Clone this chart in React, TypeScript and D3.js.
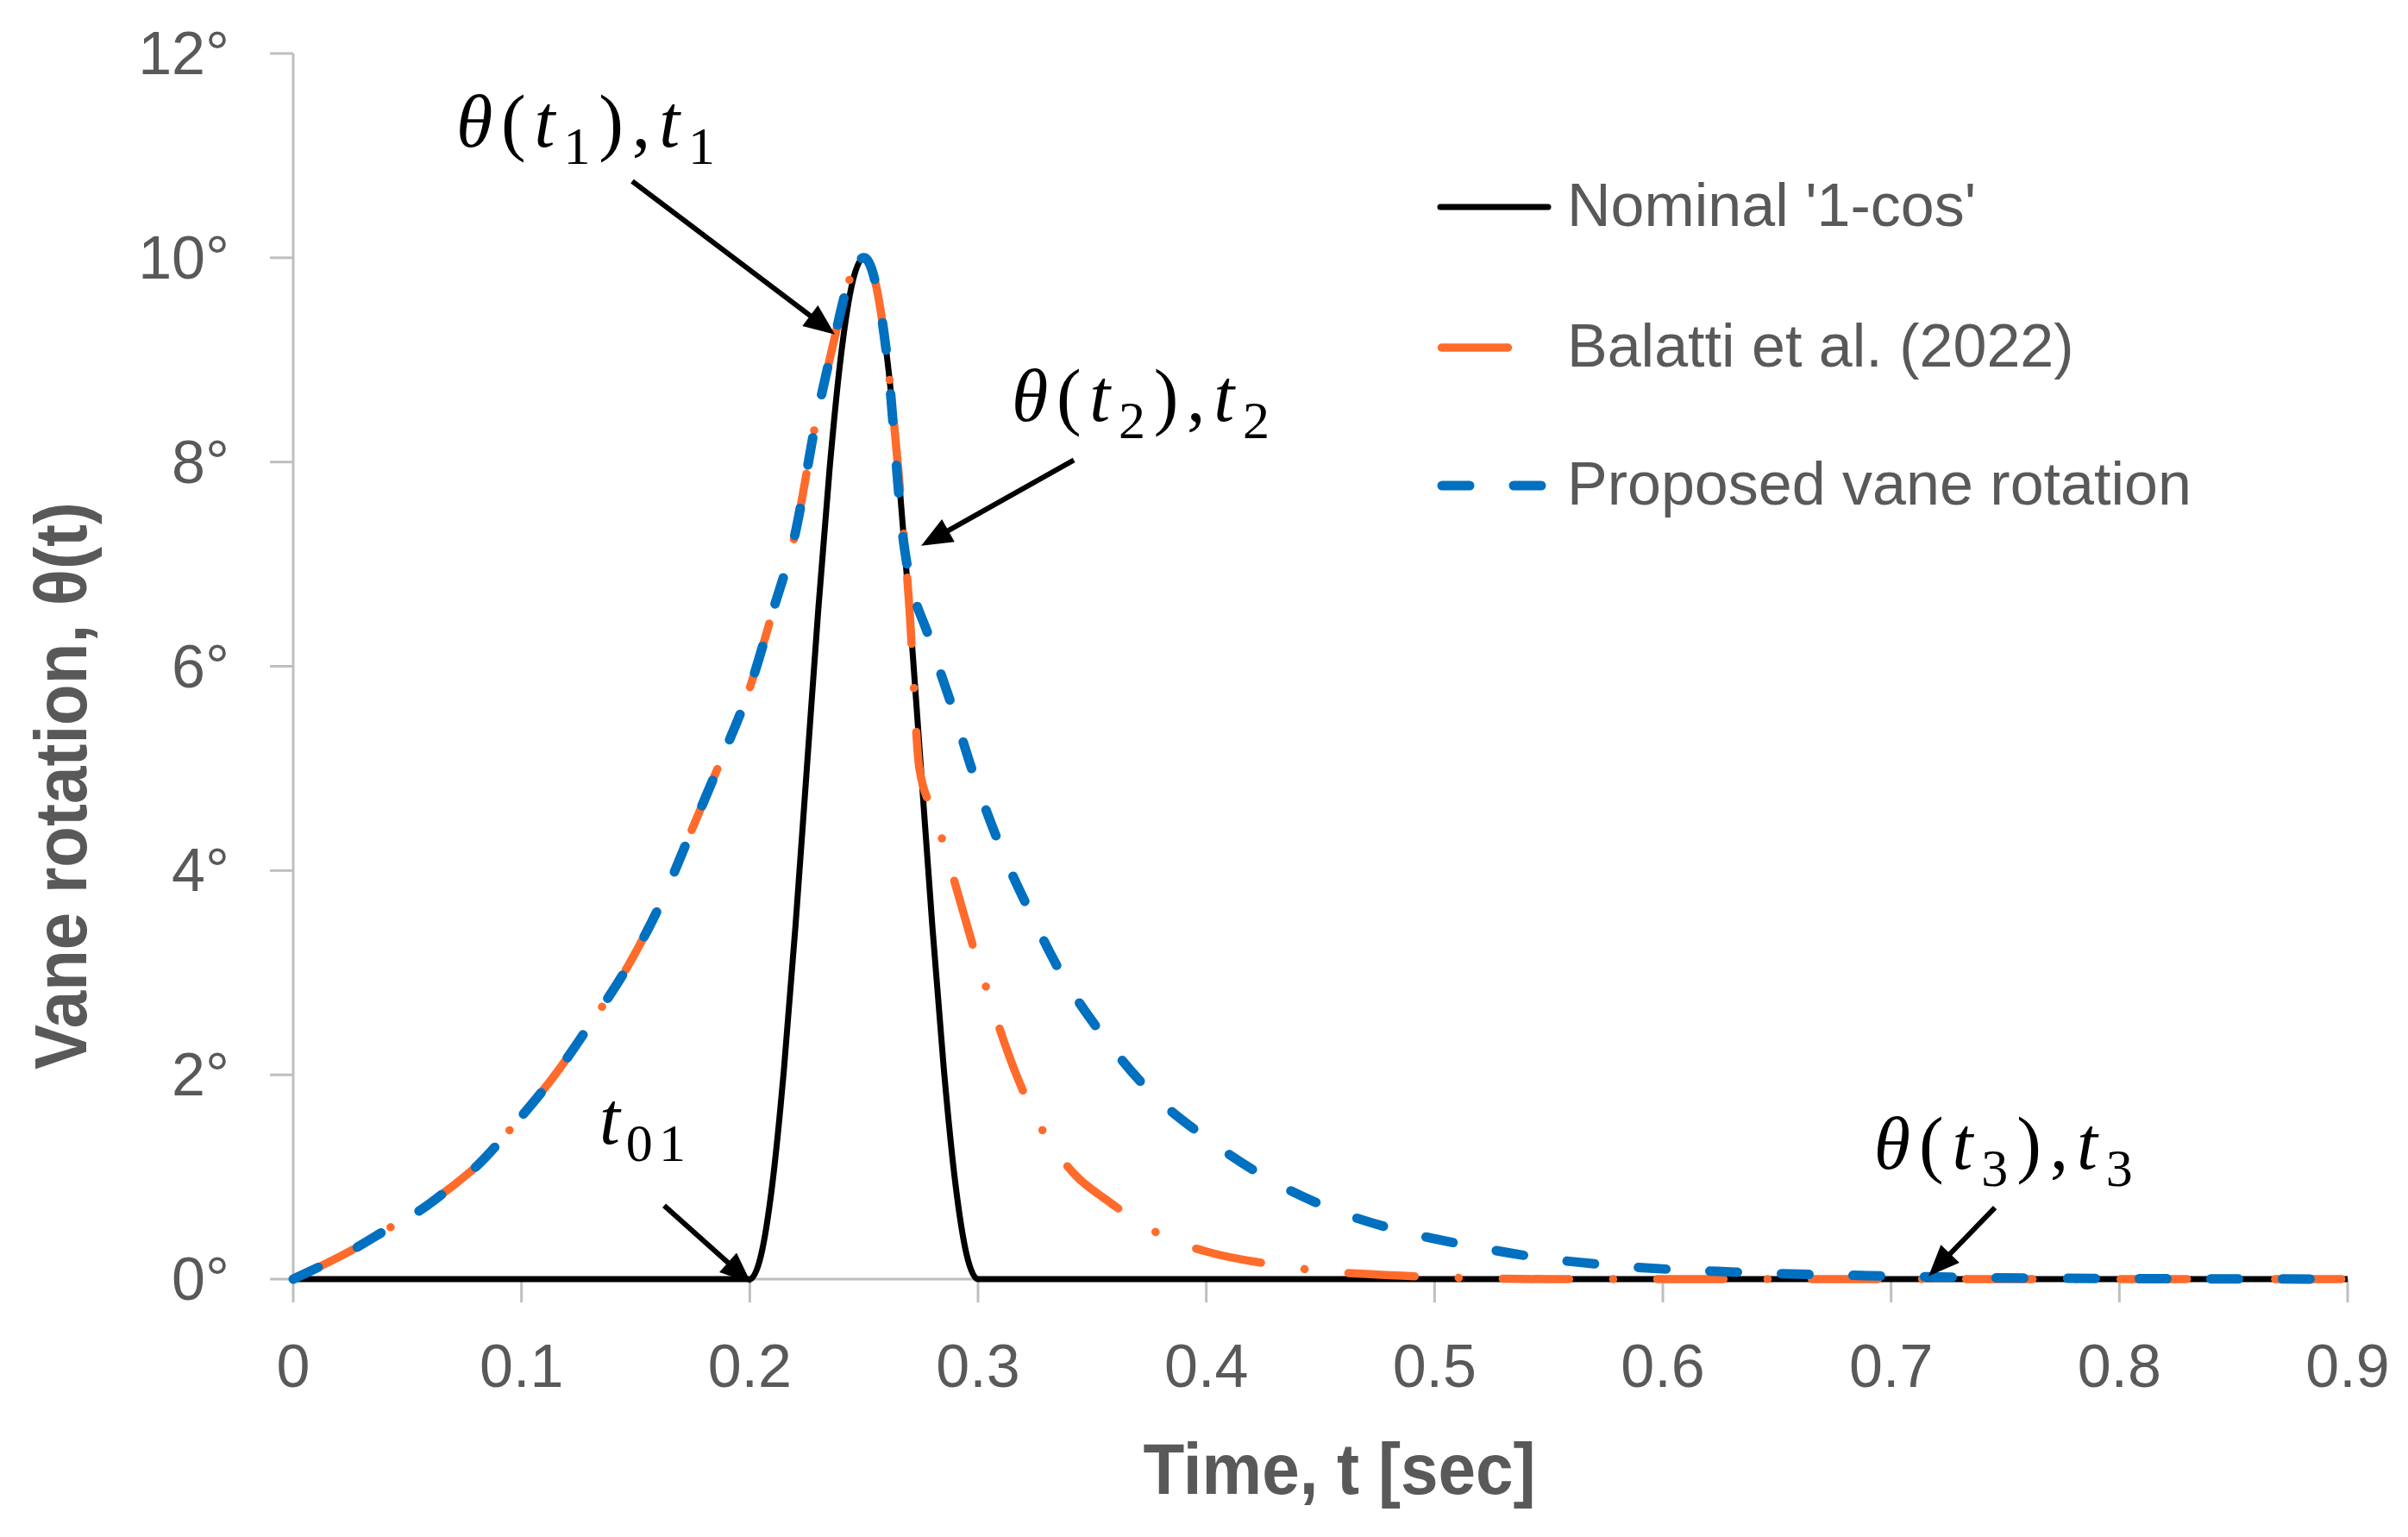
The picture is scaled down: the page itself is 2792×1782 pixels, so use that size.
import * as d3 from "d3";

const WIDTH = 2792;
const HEIGHT = 1782;
const PLOT = { left: 340, right: 2722, top: 62, bottom: 1483 };

const X_TICKS = [0, 0.1, 0.2, 0.3, 0.4, 0.5, 0.6, 0.7, 0.8, 0.9];
const Y_TICKS = [0, 2, 4, 6, 8, 10, 12];

// Nominal '1-cos' gust
const NOMINAL_T = [0, 0.2, 0.205, 0.21, 0.215, 0.22, 0.225, 0.23, 0.235, 0.24, 0.245, 0.25, 0.255, 0.26, 0.265, 0.27, 0.275, 0.28, 0.285, 0.29, 0.295, 0.3, 0.9];
const NOMINAL_V = [0, 0, 0.24, 0.95, 2.06, 3.45, 5.0, 6.55, 7.94, 9.05, 9.76, 10, 9.76, 9.05, 7.94, 6.55, 5.0, 3.45, 2.06, 0.95, 0.24, 0, 0];

// rising branch, shared by both vane curves
const RISE_T = [0, 0.027, 0.042, 0.056, 0.068, 0.081, 0.096, 0.116, 0.129, 0.147, 0.161, 0.175, 0.187, 0.2, 0.21, 0.22, 0.229, 0.237, 0.243, 0.25];
const RISE_V = [0, 0.3, 0.5, 0.68, 0.88, 1.12, 1.49, 2.04, 2.46, 3.08, 3.68, 4.42, 5.06, 5.79, 6.53, 7.31, 8.4, 9.2, 9.74, 10];

// Balatti et al. (2022) decay
const BALATTI_T = [0.255, 0.26, 0.265, 0.27, 0.2743, 0.281, 0.286, 0.291, 0.3, 0.3056, 0.311, 0.323, 0.332, 0.343, 0.356, 0.369, 0.384, 0.4, 0.433, 0.45, 0.47, 0.5, 0.55, 0.9];
const BALATTI_V = [9.76, 9.05, 7.94, 6.55, 5.0, 4.54, 4.18, 3.79, 3.1, 2.72, 2.35, 1.68, 1.32, 1.01, 0.78, 0.58, 0.39, 0.27, 0.13, 0.08, 0.05, 0.02, 0, 0];

// proposed vane rotation decay
const PROPOSED_T = [0.255, 0.26, 0.2675, 0.279, 0.289, 0.2985, 0.31, 0.3226, 0.337, 0.3555, 0.3756, 0.4, 0.4265, 0.4556, 0.4855, 0.517, 0.546, 0.58, 0.63, 0.7, 0.76, 0.9];
const PROPOSED_V = [9.76, 9.05, 7.2, 6.25, 5.58, 4.91, 4.22, 3.6, 2.97, 2.36, 1.83, 1.38, 0.99, 0.68, 0.47, 0.32, 0.21, 0.13, 0.07, 0.03, 0.01, 0];

const LEGEND = ["Nominal '1-cos'", "Balatti et al. (2022)", "Proposed vane rotation"];

// annotation text anchors and arrows, in data units [t, theta]
const LABEL_POS = [
  [0.0714, 11.09],
  [0.3147, 8.4],
  [0.1341, 1.33],
  [0.6925, 1.08],
];
const ARROWS = [
  [[0.1485, 10.75], [0.2373, 9.25]],
  [[0.342, 8.02], [0.2751, 7.18]],
  [[0.1625, 0.72], [0.2006, -0.04]],
  [[0.7455, 0.7], [0.7164, 0.03]],
];

const GREY = "#595959";
const AXIS = "#BFBFBF";
const ORANGE = "#FF6B2B";
const BLUE = "#0070C0";
const SANS = "'Liberation Sans', Arial, sans-serif";
const SERIF = "'Liberation Serif', 'DejaVu Serif', serif";

type Part = { s: string; it?: boolean; sub?: boolean };

const theta = (n: string): Part[] => [
  { s: "θ", it: true },
  { s: "(" },
  { s: "t", it: true },
  { s: n, sub: true },
  { s: ")" },
  { s: "," },
  { s: "t", it: true },
  { s: n, sub: true },
];
const LABELS: { parts: Part[]; len: number }[] = [
  { parts: theta("1"), len: 300 },
  { parts: theta("2"), len: 299 },
  { parts: [{ s: "t", it: true }, { s: "01", sub: true }], len: 100 },
  { parts: theta("3"), len: 300 },
];

const MathLabel = ({ x, y, parts, len }: { x: number; y: number; parts: Part[]; len: number }) => (
  <text x={x} y={y} fontFamily={SERIF} fontSize={86} fill="#000" textLength={len} lengthAdjust="spacing">
    {parts.map((p, i) => (
      <tspan
        key={i}
        y={p.sub ? y + 20 : y}
        fontStyle={p.it ? "italic" : "normal"}
        fontSize={p.sub ? 62 : 86}
      >
        {p.s}
      </tspan>
    ))}
  </text>
);

const Arrow = ({ x1, y1, x2, y2 }: { x1: number; y1: number; x2: number; y2: number }) => {
  const dx = x2 - x1;
  const dy = y2 - y1;
  const len = Math.hypot(dx, dy);
  const ux = dx / len;
  const uy = dy / len;
  const head = 36;
  const half = 15;
  const bx = x2 - ux * head;
  const by = y2 - uy * head;
  return (
    <g>
      <line x1={x1} y1={y1} x2={bx + ux * 4} y2={by + uy * 4} stroke="#000" strokeWidth={6} />
      <polygon
        points={`${x2},${y2} ${bx - uy * half},${by + ux * half} ${bx + uy * half},${by - ux * half}`}
        fill="#000"
      />
    </g>
  );
};

export default function App() {
  const x = d3.scaleLinear().domain([0, 0.9]).range([PLOT.left, PLOT.right]);
  const y = d3.scaleLinear().domain([0, 12]).range([PLOT.bottom, PLOT.top]);

  const line = d3
    .line<[number, number]>()
    .x((d) => x(d[0]))
    .y((d) => y(d[1]))
    .curve(d3.curveMonotoneX);

  const zip = (t: number[], v: number[]) => t.map((d, i) => [d, v[i]] as [number, number]);
  const nominal = zip(NOMINAL_T, NOMINAL_V);
  const balatti = zip(RISE_T.concat(BALATTI_T), RISE_V.concat(BALATTI_V));
  const proposed = zip(RISE_T.concat(PROPOSED_T), RISE_V.concat(PROPOSED_V));

  const xFmt = (d: number) => (d === 0 ? "0" : d3.format(".1f")(d));

  const legendY = [240, 403, 563];

  return (
    <div style={{ position: "absolute", left: 0, top: 0 }}>
      <svg width={WIDTH} height={HEIGHT} viewBox={`0 0 ${WIDTH} ${HEIGHT}`} style={{ display: "block", background: "#fff" }}>
        {/* axes */}
        <line x1={PLOT.left} x2={PLOT.left} y1={y(12)} y2={y(0)} stroke={AXIS} strokeWidth={3} />
        <line x1={PLOT.left} x2={PLOT.right} y1={y(0)} y2={y(0)} stroke={AXIS} strokeWidth={3} />
        {Y_TICKS.map((v) => (
          <g key={`y${v}`}>
            <line x1={PLOT.left - 27} x2={PLOT.left} y1={y(v)} y2={y(v)} stroke={AXIS} strokeWidth={3} />
            <text x={266} y={y(v) + 24} textAnchor="end" fontFamily={SANS} fontSize={70} fill={GREY}>
              {`${v}°`}
            </text>
          </g>
        ))}
        {X_TICKS.map((v) => (
          <g key={`x${v}`}>
            <line x1={x(v)} x2={x(v)} y1={y(0)} y2={y(0) + 27} stroke={AXIS} strokeWidth={3} />
            <text x={x(v)} y={1608} textAnchor="middle" fontFamily={SANS} fontSize={70} fill={GREY}>
              {xFmt(v)}
            </text>
          </g>
        ))}

        {/* axis titles */}
        <text
          x={1553}
          y={1732}
          textAnchor="middle"
          fontFamily={SANS}
          fontWeight="bold"
          fontSize={84}
          fill={GREY}
          textLength={455}
          lengthAdjust="spacingAndGlyphs"
        >
          Time, t [sec]
        </text>
        <text
          transform="translate(100,911) rotate(-90)"
          textAnchor="middle"
          fontFamily={SANS}
          fontWeight="bold"
          fontSize={86}
          fill={GREY}
          textLength={658}
          lengthAdjust="spacingAndGlyphs"
        >
          Vane rotation, θ(t)
        </text>

        {/* series */}
        <path d={line(nominal) ?? ""} fill="none" stroke="#000" strokeWidth={7} strokeLinejoin="round" />
        <path
          d={line(balatti) ?? ""}
          fill="none"
          stroke={ORANGE}
          strokeWidth={9.5}
          strokeDasharray="77 51 0.1 51"
          strokeLinecap="round"
          strokeLinejoin="round"
        />
        <path
          d={line(proposed) ?? ""}
          fill="none"
          stroke={BLUE}
          strokeWidth={11}
          strokeDasharray="32 51"
          strokeLinecap="round"
          strokeLinejoin="round"
        />

        {/* legend */}
        <line x1={1670} x2={1795} y1={legendY[0]} y2={legendY[0]} stroke="#000" strokeWidth={7} strokeLinecap="round" />
        <line
          x1={1671.5}
          x2={1753.5}
          y1={legendY[1]}
          y2={legendY[1]}
          stroke={ORANGE}
          strokeWidth={9.5}
          strokeDasharray="77 51 0.1 51"
          strokeLinecap="round"
        />
        <line
          x1={1672}
          x2={1790}
          y1={legendY[2]}
          y2={legendY[2]}
          stroke={BLUE}
          strokeWidth={11}
          strokeDasharray="32 51"
          strokeLinecap="round"
        />
        {LEGEND.map((name, i) => (
          <text key={name} x={1817} y={legendY[i] + 22} fontFamily={SANS} fontSize={70} fill={GREY}>
            {name}
          </text>
        ))}

        {/* annotations */}
        {ARROWS.map(([s, e], i) => (
          <Arrow key={`a${i}`} x1={x(s[0])} y1={y(s[1])} x2={x(e[0])} y2={y(e[1])} />
        ))}
        {LABELS.map((l, i) => (
          <MathLabel key={`l${i}`} x={x(LABEL_POS[i][0])} y={y(LABEL_POS[i][1])} parts={l.parts} len={l.len} />
        ))}
      </svg>
    </div>
  );
}
